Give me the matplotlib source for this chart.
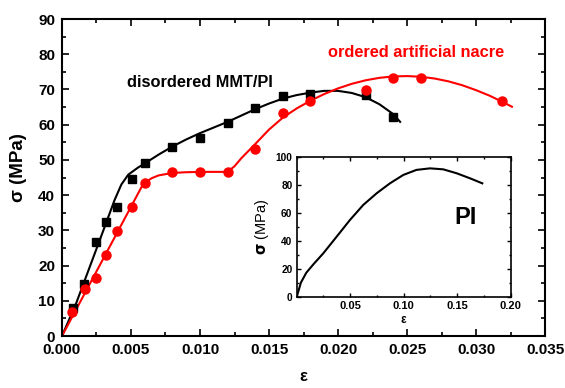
import matplotlib
matplotlib.use("Agg")
import matplotlib.pyplot as plt
from matplotlib.ticker import MultipleLocator

plt.rcParams['font.family'] = ['Liberation Sans', 'DejaVu Sans']
plt.rcParams['font.weight'] = 'bold'

# measured points
mmt_eps = [0.0008, 0.0016, 0.00246, 0.0032, 0.004, 0.00505, 0.006, 0.008, 0.010,
           0.012, 0.014, 0.016, 0.018, 0.022, 0.024]
mmt_sig = [8.0, 14.7, 26.6, 32.5, 36.6, 44.6, 49.1, 53.7, 56.3,
           60.5, 64.6, 68.0, 68.6, 68.5, 62.3]
nacre_eps = [0.0007, 0.00167, 0.00244, 0.0032, 0.004, 0.00505, 0.006, 0.008, 0.010,
             0.012, 0.014, 0.016, 0.018, 0.022, 0.024, 0.026, 0.0319]
nacre_sig = [6.7, 13.3, 16.6, 22.9, 29.9, 36.5, 43.5, 46.5, 46.6,
             46.5, 53.2, 63.3, 66.8, 69.9, 73.2, 73.2, 66.7]

# fitted curves
mmt_fit_eps = [0, 0.001, 0.002, 0.003, 0.0038, 0.0043, 0.0048, 0.0055, 0.006, 0.007,
               0.008, 0.009, 0.010, 0.011, 0.012, 0.013, 0.014, 0.015, 0.016, 0.017,
               0.018, 0.019, 0.020, 0.021, 0.022, 0.023, 0.024, 0.0245]
mmt_fit_sig = [0, 9, 19.5, 30, 38.5, 43, 45.8, 47.8, 49, 51.5,
               53.8, 55.8, 57.6, 59.2, 60.8, 62.6, 64.4, 66, 67.4, 68.4,
               69.1, 69.6, 69.6, 69.0, 67.8, 65.8, 63.0, 60.8]
nacre_fit_eps = [0, 0.0059, 0.0065, 0.007, 0.008, 0.009, 0.010, 0.011, 0.012, 0.0125,
                 0.013, 0.014, 0.015, 0.016, 0.017, 0.018, 0.019, 0.020, 0.021, 0.022,
                 0.023, 0.024, 0.025, 0.026, 0.027, 0.028, 0.029, 0.030, 0.031, 0.032, 0.0326]
nacre_fit_sig = [0, 43.3, 44.8, 45.6, 46.3, 46.5, 46.6, 46.6, 46.6, 48.2,
                 50.5, 54.5, 58.6, 62.0, 64.6, 66.8, 68.7, 70.3, 71.6, 72.6,
                 73.3, 73.7, 73.8, 73.6, 73.1, 72.3, 71.2, 69.8, 68.2, 66.3, 65.1]

# PI inset curve
pi_eps = [0, 0.004, 0.009, 0.0156, 0.0249, 0.0374, 0.0498, 0.0623, 0.0748, 0.0872, 0.0997,
          0.112, 0.1246, 0.137, 0.1495, 0.162, 0.1735]
pi_sig = [0, 10.5, 17.5, 23.5, 31.4, 43.3, 55.2, 66, 74.3, 81.4, 87.4,
          91, 92.1, 91.4, 88.6, 85, 81.4]

fig = plt.figure(figsize=(5.65, 3.88), dpi=100)
ax = fig.add_axes([0.1097, 0.134, 0.855, 0.817])

ax.plot(mmt_fit_eps, mmt_fit_sig, color='black', lw=1.5)
ax.plot(nacre_fit_eps, nacre_fit_sig, color='red', lw=1.5)
ax.plot(mmt_eps, mmt_sig, 's', color='black', ms=6)
ax.plot(nacre_eps, nacre_sig, 'o', color='red', ms=6.5)

ax.set_xlim(0, 0.035)
ax.set_ylim(0, 90)
ax.xaxis.set_major_locator(MultipleLocator(0.005))
ax.xaxis.set_minor_locator(MultipleLocator(0.0025))
ax.yaxis.set_major_locator(MultipleLocator(10))
ax.yaxis.set_minor_locator(MultipleLocator(5))
ax.tick_params(which='both', direction='in', top=True, right=True, width=1.2)
ax.tick_params(which='major', length=5, labelsize=11, pad=5)
ax.tick_params(which='minor', length=3)
ax.set_xticklabels(['%.3f' % v for v in ax.get_xticks()])
for s in ax.spines.values():
    s.set_linewidth(1.5)
ax.set_xlabel('ε', fontsize=12, fontweight='bold', labelpad=9)
ax.set_ylabel('σ (MPa)', fontsize=13.5, fontweight='bold')
ax.yaxis.set_label_coords(-0.072, 0.53)

ax.text(0.0047, 70.8, 'disordered MMT/PI', fontsize=11.8, fontweight='bold', color='black')
ax.text(0.0193, 79.2, 'ordered artificial nacre', fontsize=11.8, fontweight='bold', color='red')

ins = fig.add_axes([0.525, 0.2338, 0.3788, 0.3608])
ins.plot(pi_eps, pi_sig, color='black', lw=1.5)
ins.set_xlim(0, 0.2)
ins.set_ylim(0, 100)
ins.set_xticks([0.05, 0.10, 0.15, 0.20])
ins.set_xticklabels(['0.05', '0.10', '0.15', '0.20'])
ins.xaxis.set_minor_locator(MultipleLocator(0.025))
ins.yaxis.set_major_locator(MultipleLocator(20))
ins.yaxis.set_minor_locator(MultipleLocator(10))
ins.tick_params(which='both', direction='in', top=True, right=True, width=1)
ins.tick_params(which='major', length=3, pad=3)
ins.tick_params(axis='x', labelsize=8)
ins.tick_params(axis='y', labelsize=7.3)
ins.tick_params(which='minor', length=1.5)
for s in ins.spines.values():
    s.set_linewidth(1.2)
ins.set_xlabel('ε', fontsize=8.5, fontweight='bold', labelpad=2)
ins.set_ylabel(r'$\mathbf{\sigma}$ (MPa)', fontsize=10.5, fontweight='normal', labelpad=3)
ins.text(0.158, 57, 'PI', fontsize=17, fontweight='bold', ha='center', va='center')

fig.savefig('out.png', dpi=100)
